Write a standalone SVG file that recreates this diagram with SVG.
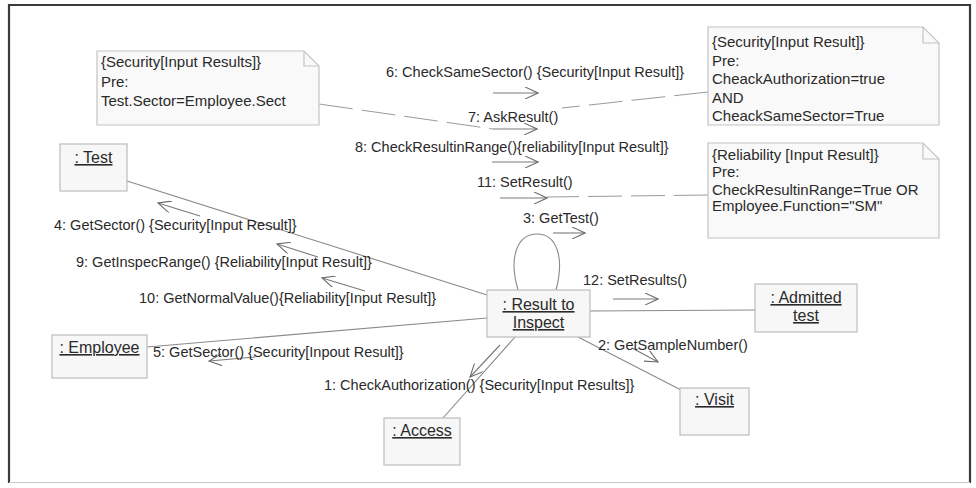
<svg xmlns="http://www.w3.org/2000/svg" width="976" height="488" viewBox="0 0 976 488">
  <defs>
    <style>
      text { font-family: "Liberation Sans", Arial, sans-serif; fill: #2a2a2a; }
      .msg { font-size: 14.5px; }
      .note-text { font-size: 15px; }
      .obj-text { font-size: 16px; text-decoration: underline; }
      .obj { fill: #f7f7f7; stroke: #bcbcbc; stroke-width: 1.2; }
      .note { fill: #f9f9f9; stroke: #c4c4c4; stroke-width: 1.2; }
      .fold { fill: none; stroke: #c4c4c4; stroke-width: 1.2; }
      .link { fill: none; stroke: #8a8a8a; stroke-width: 1.1; }
      .anchor { fill: none; stroke: #9a9a9a; stroke-width: 1; stroke-dasharray: 34 9; }
      .arrow { fill: none; stroke: #7a7a7a; stroke-width: 1.1; marker-end: url(#open); }
    </style>
    <marker id="open" viewBox="0 0 14 12" refX="13" refY="6" markerWidth="14" markerHeight="12" markerUnits="userSpaceOnUse" orient="auto">
      <path d="M0,0 L13,6 L0,12" fill="none" stroke="#6a6a6a" stroke-width="1.1"/>
    </marker>
  </defs>

  <rect width="976" height="488" fill="#ffffff"/>

  <!-- frame -->
  <g id="frame">
    <path d="M9,483 V5 H970 V483" fill="none" stroke="#3a3a3a" stroke-width="2.2"/>
    <path d="M9,482.5 H970" fill="none" stroke="#c8c8c8" stroke-width="1.2"/>
  </g>

  <!-- links, note anchors and message arrows -->
  <g id="connectors">
    <path class="link" d="M127,181 L487,295"/>
    <path class="link" d="M147,347 L487,318"/>
    <path class="link" d="M590,311 L755,310"/>
    <path class="link" d="M578,337 L681,390"/>
    <path class="link" d="M515,337 L443,418"/>
    <path class="link" d="M518,290 C508,256 518,234 537,234 C556,234 565,256 556,290"/>

    <path class="anchor" d="M319,104 L493,129"/>
    <path class="anchor" d="M708,92 L562,108"/>
    <path class="anchor" d="M708,195 L547,197"/>

    <path class="arrow" d="M493,93 H538"/>
    <path class="arrow" d="M493,129 H537"/>
    <path class="arrow" d="M492,162 H538"/>
    <path class="arrow" d="M500,198 H547"/>
    <path class="arrow" d="M553,233 H585"/>
    <path class="arrow" d="M613,299 H658"/>
    <path class="arrow" d="M200,216 L158,203"/>
    <path class="arrow" d="M318,257 L277,244"/>
    <path class="arrow" d="M365,291 L322,278"/>
    <path class="arrow" d="M255,357 L209,361"/>
    <path class="arrow" d="M500,345 L470,377"/>
    <path class="arrow" d="M632,348 L658,362"/>
  </g>

  <!-- message labels -->
  <g id="messages">
    <text class="msg" x="386" y="77">6: CheckSameSector() {Security[Input Result]}</text>
    <text class="msg" x="468" y="122">7: AskResult()</text>
    <text class="msg" x="355" y="152">8: CheckResultinRange(){reliability[Input Result]}</text>
    <text class="msg" x="477" y="187">11: SetResult()</text>
    <text class="msg" x="523" y="223">3: GetTest()</text>
    <text class="msg" x="583" y="285">12: SetResults()</text>
    <text class="msg" x="54" y="230">4: GetSector() {Security[Input Result]}</text>
    <text class="msg" x="76" y="267">9: GetInspecRange() {Reliability[Input Result]}</text>
    <text class="msg" x="139" y="303">10: GetNormalValue(){Reliability[Input Result]}</text>
    <text class="msg" x="153" y="357">5: GetSector() {Security[Inpout Result]}</text>
    <text class="msg" x="324" y="390">1: CheckAuthorization() {Security[Input Results]}</text>
    <text class="msg" x="598" y="350">2: GetSampleNumber()</text>
  </g>

  <!-- notes -->
  <g id="note-security-sector">
    <path class="note" d="M97,51 H304 L319,66 V125 H97 Z"/>
    <path class="fold" d="M304,51 V66 H319"/>
    <text class="note-text" x="101" y="67">{Security[Input Results]}</text>
    <text class="note-text" x="101" y="87">Pre:</text>
    <text class="note-text" x="101" y="106">Test.Sector=Employee.Sect</text>
  </g>
  <g id="note-security-result">
    <path class="note" d="M708,27 H923 L939,43 V125 H708 Z"/>
    <path class="fold" d="M923,27 V43 H939"/>
    <text class="note-text" x="712" y="47">{Security[Input Result]}</text>
    <text class="note-text" x="712" y="65.5">Pre:</text>
    <text class="note-text" x="712" y="84">CheackAuthorization=true</text>
    <text class="note-text" x="712" y="102.5">AND</text>
    <text class="note-text" x="712" y="121">CheackSameSector=True</text>
  </g>
  <g id="note-reliability">
    <path class="note" d="M708,143 H923 L939,159 V238 H708 Z"/>
    <path class="fold" d="M923,143 V159 H939"/>
    <text class="note-text" x="712" y="160">{Reliability [Input Result]}</text>
    <text class="note-text" x="712" y="177">Pre:</text>
    <text class="note-text" x="712" y="195">CheckResultinRange=True OR</text>
    <text class="note-text" x="712" y="211">Employee.Function="SM"</text>
  </g>

  <!-- objects -->
  <g id="obj-test">
    <rect class="obj" x="60" y="144" width="67" height="47"/>
    <text class="obj-text" x="93.5" y="163" text-anchor="middle">: Test</text>
  </g>
  <g id="obj-employee">
    <rect class="obj" x="52" y="335" width="95" height="43"/>
    <text class="obj-text" x="99.5" y="353" text-anchor="middle">: Employee</text>
  </g>
  <g id="obj-result">
    <rect class="obj" x="487" y="290" width="103" height="47"/>
    <text class="obj-text" x="538.5" y="310" text-anchor="middle">: Result to</text>
    <text class="obj-text" x="538.5" y="328" text-anchor="middle">Inspect</text>
  </g>
  <g id="obj-admitted">
    <rect class="obj" x="755" y="284" width="102" height="48"/>
    <text class="obj-text" x="806" y="303" text-anchor="middle">: Admitted</text>
    <text class="obj-text" x="806" y="321" text-anchor="middle">test</text>
  </g>
  <g id="obj-visit">
    <rect class="obj" x="680" y="388" width="69" height="47"/>
    <text class="obj-text" x="714.5" y="405" text-anchor="middle">: Visit</text>
  </g>
  <g id="obj-access">
    <rect class="obj" x="384" y="418" width="76" height="47"/>
    <text class="obj-text" x="422" y="436" text-anchor="middle">: Access</text>
  </g>
</svg>
